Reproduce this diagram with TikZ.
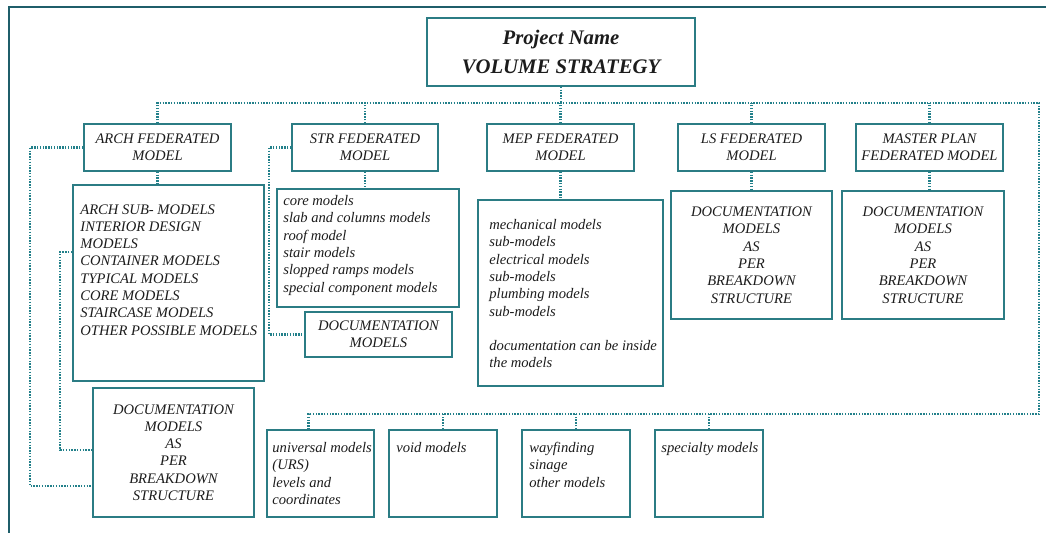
\documentclass[tikz,border=0pt]{standalone}
\usepackage{fontspec}
\setmainfont{Liberation Serif}
\usetikzlibrary{calc}
\definecolor{boxline}{HTML}{2B7C84}
\definecolor{frameline}{HTML}{1F5E6A}
\definecolor{dotline}{HTML}{22808A}
\definecolor{ink}{HTML}{1C1C1C}
\newcommand{\txtsize}{\fontsize{14.6}{17.3}\selectfont}

\begin{document}
\begin{tikzpicture}
	[
	x = 1pt, y = -1pt,
	box/.style = {draw=boxline, line width=1.6pt, rectangle, inner sep=0pt, text=ink, font=\itshape\txtsize, align=center},
	txt/.style = {inner sep=0pt, text=ink, font=\itshape\txtsize, align=left},
	link/.style = {draw=dotline, line width=2.3pt, dash pattern=on 1.4pt off 1.4pt}
	]

	\useasboundingbox (0,0) rectangle (1046,533);
	\draw[frameline, line width=2pt] (1046,7) -| (9,533);

	\node[box, minimum width=268pt, minimum height=68pt, font=\bfseries\itshape\fontsize{20.7}{29}\selectfont] (title) at (561,52) {Project Name\\VOLUME STRATEGY};

	% federated models
	\node[box, minimum width=147pt, minimum height=47pt] (arch) at (157.5,147.5) {ARCH FEDERATED\\MODEL};
	\node[box, minimum width=146pt, minimum height=47pt] (str) at (365,147.5) {STR FEDERATED\\MODEL};
	\node[box, minimum width=147pt, minimum height=47pt] (mep) at (560.5,147.5) {MEP FEDERATED\\MODEL};
	\node[box, minimum width=147pt, minimum height=47pt] (ls) at (751.5,147.5) {LS FEDERATED\\MODEL};
	\node[box, minimum width=147pt, minimum height=47pt] (mp) at (929.5,147.5) {MASTER PLAN\\FEDERATED MODEL};

	% sub models
	\node[box, minimum width=191pt, minimum height=196pt] (archsub) at (168.5,283) {};
	\node[txt, anchor=north west] (archlist) at ($(archsub.north west)+(8,20)$) {ARCH SUB- MODELS\\INTERIOR DESIGN\\MODELS\\CONTAINER MODELS\\TYPICAL MODELS\\CORE MODELS\\STAIRCASE MODELS\\OTHER POSSIBLE MODELS};
	\node[box, minimum width=182pt, minimum height=118pt] (strsub) at (368,248) {};
	\node[txt, anchor=north west] (strlist) at ($(strsub.north west)+(7,7)$) {core models\\slab and columns models\\roof model\\stair models\\slopped ramps models\\special component models};
	\node[box, minimum width=147pt, minimum height=45pt] (strdoc) at (378.5,334.5) {DOCUMENTATION\\MODELS};
	\node[box, minimum width=185pt, minimum height=186pt] (mepsub) at (570.5,293) {};
	\node[txt, anchor=north west] (meplist) at ($(mepsub.north west)+(12,20)$) {mechanical models\\sub-models\\electrical models\\sub-models\\plumbing models\\sub-models\\[17.3pt]documentation can be inside\\the models};
	\node[box, minimum width=161pt, minimum height=128pt] (lssub) at (751.5,255) {DOCUMENTATION\\MODELS\\AS\\PER\\BREAKDOWN\\STRUCTURE};
	\node[box, minimum width=162pt, minimum height=128pt] (mpsub) at (923,255) {DOCUMENTATION\\MODELS\\AS\\PER\\BREAKDOWN\\STRUCTURE};
	\node[box, minimum width=161pt, minimum height=129pt] (archdoc) at (173.5,452.5) {DOCUMENTATION\\MODELS\\AS\\PER\\BREAKDOWN\\STRUCTURE};

	% shared models
	\node[box, minimum width=107pt, minimum height=87pt] (univ) at (320.5,473.5) {};
	\node[box, minimum width=108pt, minimum height=87pt] (void) at (443,473.5) {};
	\node[box, minimum width=108pt, minimum height=87pt] (way) at (576,473.5) {};
	\node[box, minimum width=108pt, minimum height=87pt] (spec) at (709,473.5) {};
	\node[txt, anchor=north west] (univtxt) at ($(univ.north west)+(6,13)$) {universal models\\(URS)\\levels and\\coordinates};
	\node[txt, anchor=north west] (voidtxt) at ($(void.north west)+(8,13)$) {void models};
	\node[txt, anchor=north west] (waytxt) at ($(way.north west)+(8,13)$) {wayfinding\\sinage\\other models};
	\node[txt, anchor=north west] (spectxt) at ($(spec.north west)+(7,13)$) {specialty models};

	\coordinate (@top) at (1039,103);
	\coordinate (@bot) at (1039,414);

	\draw[link] (title.south) -- (title.south |- @top);
	\draw[link] (arch.north) |- (@top) -- (@bot) -| ([xshift=-12pt]univ.north);
	\foreach \n in {str,mep,ls,mp} \draw[link] (\n.north) -- (\n.north |- @top);
	\foreach \n in {void,way,spec} \draw[link] (\n.north) -- (\n.north |- @bot);
	\foreach \a/\b in {arch/archsub,str/strsub,mep/mepsub,ls/lssub,mp/mpsub} \draw[link] (\a.south) -- (\a.south |- \b.north);

	\draw[link] (str.west) -- ++(-22,0) |- (strdoc.west);
	\draw[link] (arch.west) -- ++(-53,0) |- ([yshift=-33.5pt]archdoc.west);
	\draw[link] ([yshift=31pt]archsub.west) -- ++(-12,0) |- ([yshift=2.5pt]archdoc.west);

\end{tikzpicture}
\end{document}
